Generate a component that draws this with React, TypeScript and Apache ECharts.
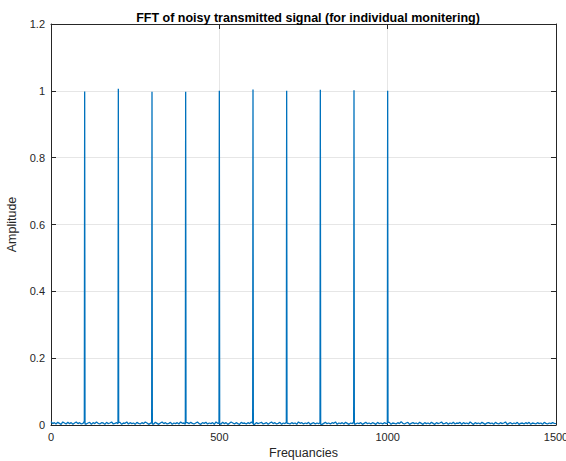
import React, { useEffect, useRef } from "react";
import * as echarts from "echarts";

const titleText = "FFT of noisy transmitted signal (for individual monitering)";
const xName = "Frequancies";
const yName = "Amplitude";

// noise floor sampled every 5 Hz from 0 to 1500
const noiseStep = 5;
const noise = [
  0.010, 0.004, 0.007, 0.003, 0.008, 0.005, 0.002, 0.009, 0.006, 0.003, 0.008, 0.004, 0.007, 0.002, 0.006, 0.009, 0.004, 0.007, 0.003, 0.005,
  0.011, 0.003, 0.006, 0.008, 0.002, 0.007, 0.004, 0.009, 0.005, 0.003, 0.007, 0.006, 0.002, 0.008, 0.004, 0.006, 0.009, 0.003, 0.005, 0.007,
  0.004, 0.008, 0.002, 0.006, 0.005, 0.009, 0.003, 0.007, 0.004, 0.006, 0.002, 0.008, 0.005, 0.003, 0.007, 0.004, 0.009, 0.006, 0.002, 0.005,
  0.007, 0.003, 0.008, 0.005, 0.002, 0.006, 0.009, 0.004, 0.007, 0.003, 0.005, 0.008, 0.002, 0.006, 0.004, 0.007, 0.003, 0.009, 0.005, 0.006,
  0.002, 0.007, 0.004, 0.008, 0.005, 0.003, 0.006, 0.009, 0.004, 0.002, 0.007, 0.005, 0.008, 0.003, 0.006, 0.004, 0.007, 0.002, 0.009, 0.005,
  0.006, 0.003, 0.008, 0.004, 0.007, 0.002, 0.005, 0.009, 0.006, 0.003, 0.007, 0.004, 0.002, 0.008, 0.005, 0.006, 0.003, 0.007, 0.004, 0.009,
  0.005, 0.002, 0.007, 0.004, 0.006, 0.008, 0.003, 0.005, 0.007, 0.002, 0.006, 0.009, 0.004, 0.007, 0.003, 0.005, 0.008, 0.002, 0.006, 0.004,
  0.008, 0.005, 0.003, 0.007, 0.004, 0.006, 0.002, 0.009, 0.005, 0.007, 0.003, 0.006, 0.004, 0.008, 0.002, 0.005, 0.007, 0.003, 0.006, 0.004,
  0.007, 0.002, 0.005, 0.008, 0.004, 0.006, 0.003, 0.007, 0.005, 0.009, 0.002, 0.006, 0.004, 0.007, 0.003, 0.008, 0.005, 0.002, 0.006, 0.004,
  0.009, 0.003, 0.006, 0.004, 0.007, 0.002, 0.005, 0.008, 0.004, 0.006, 0.003, 0.007, 0.005, 0.002, 0.008, 0.004, 0.006, 0.003, 0.007, 0.005,
  0.004, 0.008, 0.002, 0.006, 0.005, 0.003, 0.007, 0.004, 0.010, 0.005, 0.003, 0.006, 0.008, 0.002, 0.005, 0.007, 0.004, 0.006, 0.003, 0.008,
  0.005, 0.002, 0.007, 0.004, 0.006, 0.003, 0.008, 0.005, 0.002, 0.007, 0.004, 0.006, 0.009, 0.003, 0.005, 0.007, 0.002, 0.006, 0.004, 0.008,
  0.003, 0.006, 0.005, 0.008, 0.002, 0.007, 0.004, 0.006, 0.003, 0.009, 0.005, 0.002, 0.007, 0.004, 0.006, 0.003, 0.008, 0.005, 0.002, 0.006,
  0.007, 0.004, 0.006, 0.002, 0.008, 0.005, 0.003, 0.007, 0.004, 0.006, 0.009, 0.002, 0.005, 0.007, 0.003, 0.006, 0.004, 0.008, 0.002, 0.005,
  0.006, 0.003, 0.007, 0.004, 0.008, 0.002, 0.006, 0.005, 0.003, 0.007, 0.004, 0.006, 0.002, 0.008, 0.005, 0.003, 0.006, 0.004, 0.007, 0.005,
  0.004,
];

const peakFreqs = [100, 200, 300, 400, 500, 600, 700, 800, 900, 1000];
const peakAmps = [0.998, 1.006, 0.997, 0.997, 1.0, 1.004, 1.0, 1.003, 1.002, 1.0];

const xTicks = { min: 0, max: 1500, interval: 500 };
const yTicks = { min: 0, max: 1.2, interval: 0.2 };

function buildData(): [number, number][] {
  const pts: [number, number][] = [];
  noise.forEach((v, i) => {
    const f = i * noiseStep;
    const pi = peakFreqs.indexOf(f);
    if (pi >= 0) {
      pts.push([f - 1, v]);
      pts.push([f, peakAmps[pi]]);
      pts.push([f + 1, noise[i + 1] ?? v]);
    } else {
      pts.push([f, v]);
    }
  });
  return pts;
}

const FONT = "'Liberation Sans', Arial, Helvetica, sans-serif";
const AX = "#262626";
const GRID = "#e6e6e6";

function tick() {
  return { show: true, inside: true, length: 5, lineStyle: { color: AX, width: 1 } };
}
function line() {
  return { show: true, onZero: false, lineStyle: { color: AX, width: 1 } };
}

export default function App() {
  const ref = useRef<HTMLDivElement>(null);
  useEffect(() => {
    if (!ref.current) return;
    const chart = echarts.init(ref.current, undefined, { renderer: "svg" });
    chart.setOption({
      animation: false,
      backgroundColor: "#ffffff",
      textStyle: { fontFamily: FONT },
      title: {
        text: titleText,
        left: 303,
        textAlign: "center",
        top: 6,
        textStyle: { fontSize: 12.5, fontWeight: "bold", color: "#000", fontFamily: FONT },
      },
      grid: {
        left: 51,
        right: 10,
        top: 24,
        bottom: 36,
        containLabel: false,
        outerBoundsMode: "none",
      },
      xAxis: [
        {
          type: "value",
          position: "bottom",
          ...xTicks,
          name: xName,
          nameLocation: "middle",
          nameGap: 20,
          nameTextStyle: { fontSize: 12.5, color: AX, fontFamily: FONT },
          axisLine: line(),
          axisTick: tick(),
          axisLabel: {
            fontSize: 11,
            color: AX,
            margin: 6,
            fontFamily: FONT,
            formatter: (v: number) => String(v),
          },
          splitLine: { show: true, lineStyle: { color: GRID, width: 1 } },
        },
        {
          type: "value",
          position: "top",
          ...xTicks,
          axisLine: line(),
          axisTick: tick(),
          axisLabel: { show: false },
          splitLine: { show: false },
        },
      ],
      yAxis: [
        {
          type: "value",
          position: "left",
          ...yTicks,
          name: yName,
          nameLocation: "middle",
          nameGap: 24,
          nameTextStyle: { fontSize: 12.5, color: AX, fontFamily: FONT },
          axisLine: line(),
          axisTick: tick(),
          axisLabel: { fontSize: 11, color: AX, margin: 6, fontFamily: FONT },
          splitLine: { show: true, lineStyle: { color: GRID, width: 1 } },
        },
        {
          type: "value",
          position: "right",
          ...yTicks,
          axisLine: line(),
          axisTick: tick(),
          axisLabel: { show: false },
          splitLine: { show: false },
        },
      ],
      series: [
        {
          type: "line",
          data: buildData(),
          xAxisIndex: 0,
          yAxisIndex: 0,
          showSymbol: false,
          symbol: "none",
          lineStyle: { color: "#0072bd", width: 1.3 },
          itemStyle: { color: "#0072bd" },
          z: 1,
        },
      ],
    });
    return () => chart.dispose();
  }, []);
  return (
    <div
      ref={ref}
      style={{ position: "fixed", left: 0, top: 0, width: 566, height: 461, background: "#fff" }}
    />
  );
}
